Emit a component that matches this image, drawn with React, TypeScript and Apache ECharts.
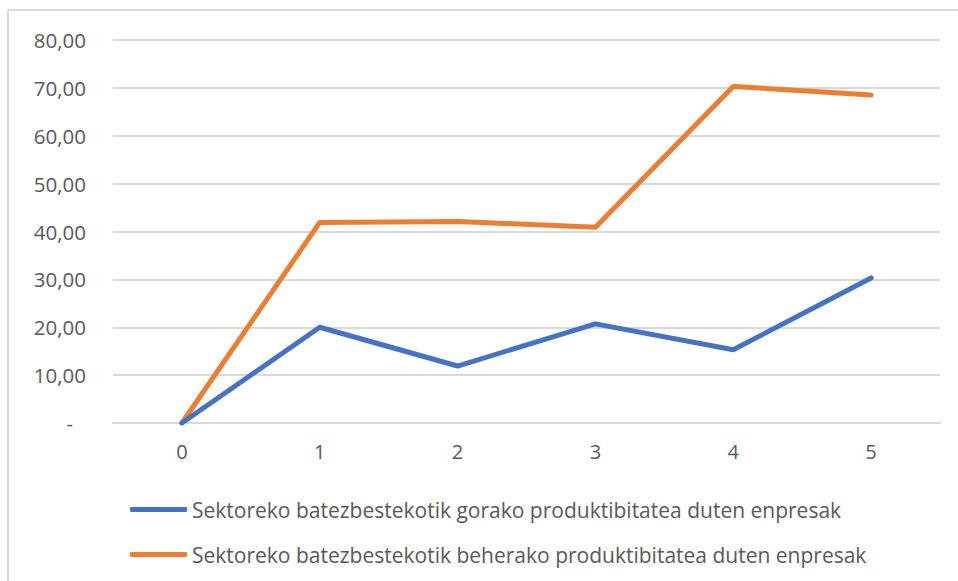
import React, { useEffect, useRef } from "react";
import * as echarts from "echarts";

const categories = ["0", "1", "2", "3", "4", "5"];
const seriesNames = [
  "Sektoreko batezbestekotik gorako produktibitatea duten enpresak",
  "Sektoreko batezbestekotik beherako produktibitatea duten enpresak",
];
const aboveValues = [0, 20.0, 11.9, 20.7, 15.3, 30.3];
const belowValues = [0, 41.9, 42.1, 40.9, 70.3, 68.5];
const yTicks = [0, 10, 20, 30, 40, 50, 60, 70, 80];

const FONT = "'Open Sans', sans-serif";
const TEXT = "#595959";
const GRID = "#d9d9d9";

export default function App() {
  const ref = useRef<HTMLDivElement>(null);
  useEffect(() => {
    document.body.style.margin = "0";
    if (!ref.current) return;
    const chart = echarts.init(ref.current, undefined, { renderer: "svg" });
    chart.setOption({
      animation: false,
      backgroundColor: "#ffffff",
      textStyle: { fontFamily: FONT },
      graphic: [
        { type: "line", shape: { x1: 8, y1: 10, x2: 958, y2: 10 }, style: { stroke: GRID, lineWidth: 2 } },
        { type: "line", shape: { x1: 8, y1: 10, x2: 8, y2: 581 }, style: { stroke: GRID, lineWidth: 2 } },
      ],
      grid: { left: 113, right: 18, top: 40, bottom: 158 },
      legend: {
        orient: "vertical",
        left: 125,
        top: 494,
        itemGap: 24,
        itemWidth: 57,
        itemHeight: 5,
        icon: "roundRect",
        textStyle: { color: TEXT, fontSize: 21, fontFamily: FONT },
        data: seriesNames,
      },
      xAxis: {
        type: "category",
        data: categories,
        boundaryGap: true,
        axisLine: { show: true, lineStyle: { color: GRID, width: 2 } },
        axisTick: { show: false },
        axisLabel: { color: TEXT, fontSize: 20, margin: 18, fontFamily: FONT },
        splitLine: { show: false },
      },
      yAxis: {
        type: "value",
        min: yTicks[0],
        max: yTicks[yTicks.length - 1],
        interval: 10,
        axisLine: { show: false },
        axisTick: { show: false },
        axisLabel: {
          color: TEXT,
          fontSize: 20.5,
          margin: 27,
          fontFamily: FONT,
          formatter: (v: number) => (v === 0 ? "{d|-}" : v.toFixed(2).replace(".", ",")),
          rich: { d: { color: TEXT, fontSize: 20.5, fontFamily: FONT, padding: [0, 13, 0, 0] } },
        },
        splitLine: { lineStyle: { color: GRID, width: 2 } },
      },
      series: [
        {
          name: seriesNames[0],
          type: "line",
          data: aboveValues,
          symbol: "none",
          color: "#4472C4",
          lineStyle: { width: 5, color: "#4472C4", cap: "round", join: "round" },
          z: 3,
        },
        {
          name: seriesNames[1],
          type: "line",
          data: belowValues,
          symbol: "none",
          color: "#ED7D31",
          lineStyle: { width: 5, color: "#ED7D31", cap: "round", join: "round" },
          z: 2,
        },
      ],
    });
    return () => chart.dispose();
  }, []);
  return <div ref={ref} style={{ width: 958, height: 581 }} />;
}
